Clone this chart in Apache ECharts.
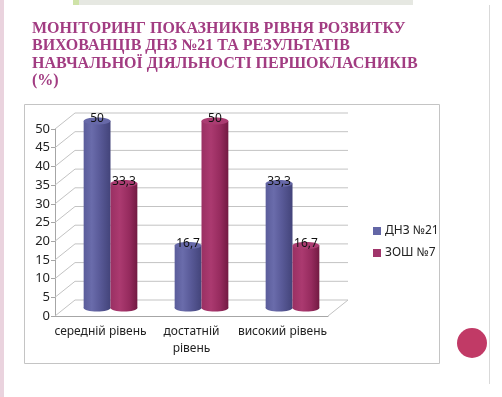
<!DOCTYPE html>
<html>
<head>
<meta charset="utf-8">
<script src="https://cdn.jsdelivr.net/npm/echarts@6/dist/echarts.min.js"></script>
<style>
  html, body { margin: 0; padding: 0; background: #fff; }
  #chart { width: 502px; height: 397px; }
</style>
</head>
<body>
<div id="chart"></div>
<script>
// дані з діаграми
const categories = ['середній рівень', 'достатній\nрівень', 'високий рівень'];
const dnz21 = [50, 16.7, 33.3];
const zosh7 = [33.3, 50, 16.7];
const yTicks = [0, 5, 10, 15, 20, 25, 30, 35, 40, 45, 50];

const DX = 20, DY = 16; // глибина 3D
const FONT = '"Noto Sans", "DejaVu Sans", sans-serif';

const chart = echarts.init(document.getElementById('chart'));

const blueGrad = new echarts.graphic.LinearGradient(0, 0, 1, 0, [
  { offset: 0, color: '#5b5d9b' },
  { offset: 0.3, color: '#6a6cab' },
  { offset: 0.6, color: '#595a98' },
  { offset: 1, color: '#43447a' }
]);
const redGrad = new echarts.graphic.LinearGradient(0, 0, 1, 0, [
  { offset: 0, color: '#9a3063' },
  { offset: 0.35, color: '#ab3a70' },
  { offset: 0.7, color: '#962b5e' },
  { offset: 1, color: '#721a42' }
]);

function fmt(v) {
  return String(v).replace('.', ',');
}

// циліндр
function cylinder(side, grad, topColor) {
  return function (params, api) {
    const cat = api.value(0), v = api.value(1);
    const band = api.size([1, 0])[0];
    const w = band * 0.295;
    const top = api.coord([cat, v]);
    const base = api.coord([cat, 0]);
    const cx = top[0] + side * w / 2 + DX / 2;
    const yTop = top[1] - DY / 2, yBot = base[1] - DY / 2;
    const rx = w / 2, ry = 3.5;
    return {
      type: 'group',
      children: [
        { type: 'rect', shape: { x: cx - rx, y: yTop, width: w, height: yBot - yTop }, style: { fill: grad } },
        { type: 'ellipse', shape: { cx: cx, cy: yBot, rx: rx, ry: ry }, style: { fill: grad } },
        { type: 'ellipse', shape: { cx: cx, cy: yTop, rx: rx, ry: ry }, style: { fill: topColor } },
        { type: 'text', z2: 10, style: { text: fmt(v), x: cx, y: yTop - 2, align: 'center', verticalAlign: 'middle', font: '12px ' + FONT, fill: '#111' } }
      ]
    };
  };
}

// задня стінка та бічні лінії
function walls(params, api) {
  const cs = params.coordSys;
  const v = api.value(1);
  const p = api.coord([0, v]);
  const x0 = cs.x, x1 = cs.x + cs.width;
  const children = [{
    type: 'polyline',
    shape: { points: [[x0, p[1]], [x0 + DX, p[1] - DY], [x1 + DX, p[1] - DY]] },
    style: { stroke: '#c3c3c3', lineWidth: 1, fill: null }
  }];
  if (v === 0) {
    children.push({
      type: 'line',
      shape: { x1: x1, y1: p[1], x2: x1 + DX, y2: p[1] - DY },
      style: { stroke: '#c3c3c3', lineWidth: 1 }
    });
  }
  return { type: 'group', children: children };
}

const option = {
  backgroundColor: '#fff',
  animation: false,
  title: {
    text: 'МОНІТОРИНГ ПОКАЗНИКІВ РІВНЯ РОЗВИТКУ\nВИХОВАНЦІВ ДНЗ №21 ТА РЕЗУЛЬТАТІВ\nНАВЧАЛЬНОЇ ДІЯЛЬНОСТІ ПЕРШОКЛАСНИКІВ\n(%)',
    left: 27,
    top: 15,
    textStyle: {
      fontFamily: '"Liberation Serif", "DejaVu Serif", serif',
      fontWeight: 'bold',
      fontSize: 16,
      lineHeight: 17.5,
      color: '#a23c82'
    }
  },
  legend: {
    orient: 'vertical',
    left: 368,
    top: 220,
    itemWidth: 8,
    itemHeight: 8,
    itemGap: 10,
    icon: 'rect',
    data: ['ДНЗ №21', 'ЗОШ №7'],
    textStyle: { fontFamily: FONT, fontSize: 12, color: '#222', padding: [0, 0, 0, -1] }
  },
  graphic: [
    { type: 'rect', z: -10, shape: { x: 0, y: 0, width: 4, height: 397 }, style: { fill: '#ead3de' } },
    { type: 'rect', z: -10, shape: { x: 73, y: 0, width: 340, height: 5 }, style: { fill: '#e6e8e2' } },
    { type: 'rect', z: -10, shape: { x: 73, y: 0, width: 6, height: 5 }, style: { fill: '#cfe3a8' } },
    { type: 'line', z: -10, shape: { x1: 489.5, y1: 5, x2: 489.5, y2: 384 }, style: { stroke: '#d9d9d9', lineWidth: 1 } },
    { type: 'rect', z: -10, shape: { x: 24.5, y: 104.5, width: 415, height: 259 }, style: { fill: '#fff', stroke: '#c4c4c4', lineWidth: 1 } },
    { type: 'circle', z: -10, shape: { cx: 472, cy: 343, r: 15 }, style: { fill: '#c13a66' } }
  ],
  grid: { left: 55, top: 129, width: 273, height: 187 },
  xAxis: {
    type: 'category',
    data: categories,
    axisLine: { lineStyle: { color: '#a6a6a6' } },
    axisTick: { length: 4, lineStyle: { color: '#a6a6a6' } },
    axisLabel: { fontFamily: FONT, fontSize: 12, color: '#222', lineHeight: 17, margin: 7, interval: 0 }
  },
  yAxis: {
    type: 'value',
    min: 0,
    max: 50,
    interval: 5,
    axisLine: { show: true, lineStyle: { color: '#a6a6a6' } },
    axisTick: { show: true, length: 4, lineStyle: { color: '#a6a6a6' } },
    splitLine: { show: false },
    axisLabel: { fontFamily: FONT, fontSize: 13, color: '#222', margin: 5 }
  },
  series: [
    {
      type: 'custom',
      name: 'walls',
      z: 1,
      silent: true,
      renderItem: walls,
      data: yTicks.map(function (v) { return [0, v]; }),
      encode: { x: 0, y: 1 }
    },
    {
      type: 'custom',
      name: 'ДНЗ №21',
      z: 3,
      itemStyle: { color: '#6366a6' },
      renderItem: cylinder(-1, blueGrad, '#6769a8'),
      data: dnz21.map(function (v, i) { return [i, v]; }),
      encode: { x: 0, y: 1 }
    },
    {
      type: 'custom',
      name: 'ЗОШ №7',
      z: 3,
      itemStyle: { color: '#a0356b' },
      renderItem: cylinder(1, redGrad, '#aa3c71'),
      data: zosh7.map(function (v, i) { return [i, v]; }),
      encode: { x: 0, y: 1 }
    }
  ]
};

chart.setOption(option);
</script>
</body>
</html>
